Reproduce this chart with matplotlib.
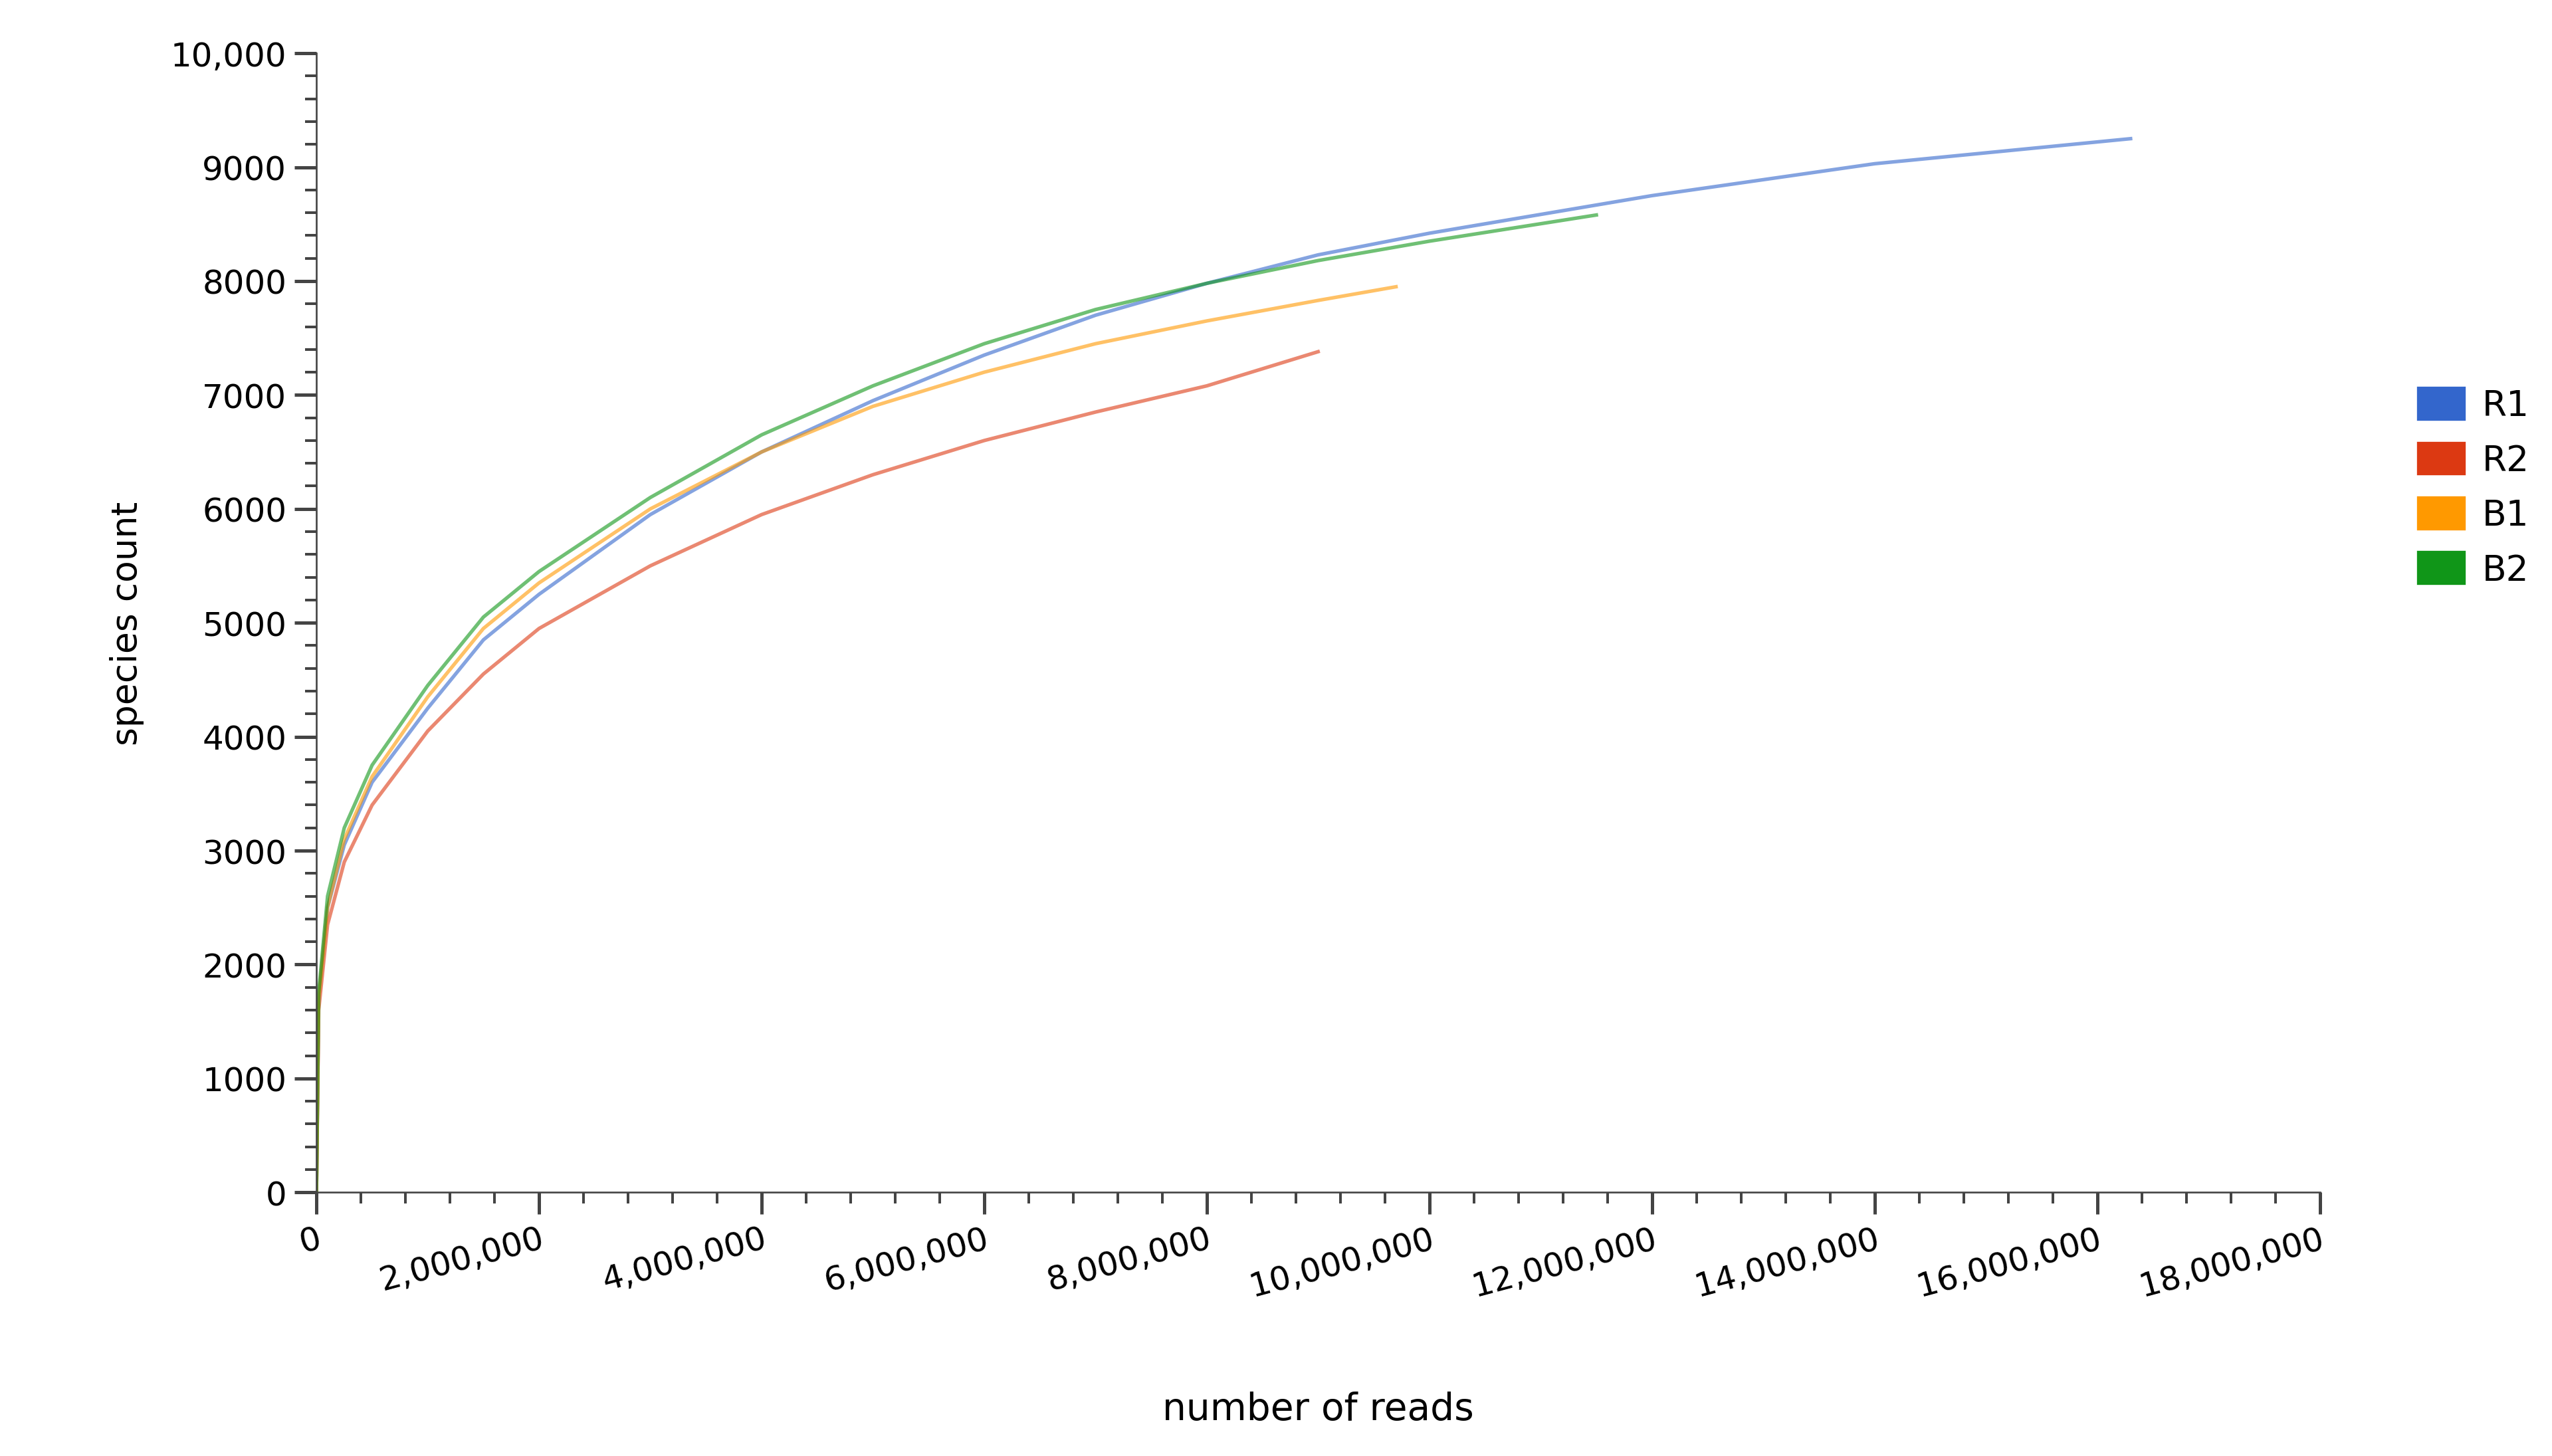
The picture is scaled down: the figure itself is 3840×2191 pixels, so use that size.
import matplotlib.pyplot as plt
from matplotlib.patches import Patch
from matplotlib.ticker import MultipleLocator, FuncFormatter

# (reads, species count)
r1_x = [0, 20000, 100000, 250000, 500000, 1000000, 1500000, 2000000, 3000000, 4000000, 5000000, 6000000, 7000000, 8000000, 9000000, 10000000, 12000000, 14000000, 16300000]
r1_y = [0, 1700, 2500, 3050, 3600, 4250, 4850, 5250, 5950, 6500, 6950, 7350, 7700, 7980, 8230, 8420, 8750, 9030, 9250]
r2_x = [0, 20000, 100000, 250000, 500000, 1000000, 1500000, 2000000, 3000000, 4000000, 5000000, 6000000, 7000000, 8000000, 9000000]
r2_y = [0, 1600, 2350, 2900, 3400, 4050, 4550, 4950, 5500, 5950, 6300, 6600, 6850, 7080, 7380]
b1_x = [0, 20000, 100000, 250000, 500000, 1000000, 1500000, 2000000, 3000000, 4000000, 5000000, 6000000, 7000000, 8000000, 9000000, 9700000]
b1_y = [0, 1700, 2500, 3100, 3650, 4350, 4950, 5350, 6000, 6500, 6900, 7200, 7450, 7650, 7830, 7950]
b2_x = [0, 20000, 100000, 250000, 500000, 1000000, 1500000, 2000000, 3000000, 4000000, 5000000, 6000000, 7000000, 8000000, 9000000, 10000000, 11500000]
b2_y = [0, 1750, 2600, 3200, 3750, 4450, 5050, 5450, 6100, 6650, 7080, 7450, 7750, 7980, 8180, 8350, 8580]

names = ["R1", "R2", "B1", "B2"]
colors = ["#3366cc", "#dc3912", "#ff9900", "#109618"]
series = [(r1_x, r1_y), (r2_x, r2_y), (b1_x, b1_y), (b2_x, b2_y)]

fig = plt.figure(figsize=(16, 9.1333), dpi=240)
ax = fig.add_axes([0.124, 0.181, 0.785, 0.782])

for (x, y), c in zip(series, colors):
    ax.plot(x, y, color=c, lw=1.6, alpha=0.6)

ax.set_xlim(0, 18000000)
ax.set_ylim(0, 10000)
ax.xaxis.set_major_locator(MultipleLocator(2000000))
ax.xaxis.set_minor_locator(MultipleLocator(400000))
ax.yaxis.set_major_locator(MultipleLocator(1000))
ax.yaxis.set_minor_locator(MultipleLocator(200))
ax.xaxis.set_major_formatter(FuncFormatter(lambda v, p: f"{int(v):,}"))
ax.yaxis.set_major_formatter(FuncFormatter(lambda v, p: "10,000" if v == 10000 else f"{int(v)}"))
for s in ["top", "right"]:
    ax.spines[s].set_visible(False)
ax.spines["left"].set_color("#444444")
ax.spines["bottom"].set_color("#444444")
ax.tick_params(which="major", length=10, width=1.5, color="#444444", labelsize=15)
ax.tick_params(which="minor", length=5, width=1.2, color="#444444")
plt.setp(ax.get_xticklabels(), rotation=15, ha="right", rotation_mode="anchor")

ax.set_xlabel("number of reads", fontsize=17, labelpad=40)
ax.set_ylabel("species count", fontsize=16, labelpad=12)

handles = [Patch(color=c) for c in colors]
fig.legend(handles, names, loc="center left", bbox_to_anchor=(0.935, 0.665),
           frameon=False, fontsize=16, handlelength=1.3, handleheight=1.0,
           labelspacing=0.55, handletextpad=0.5)

fig.savefig("out.png")
